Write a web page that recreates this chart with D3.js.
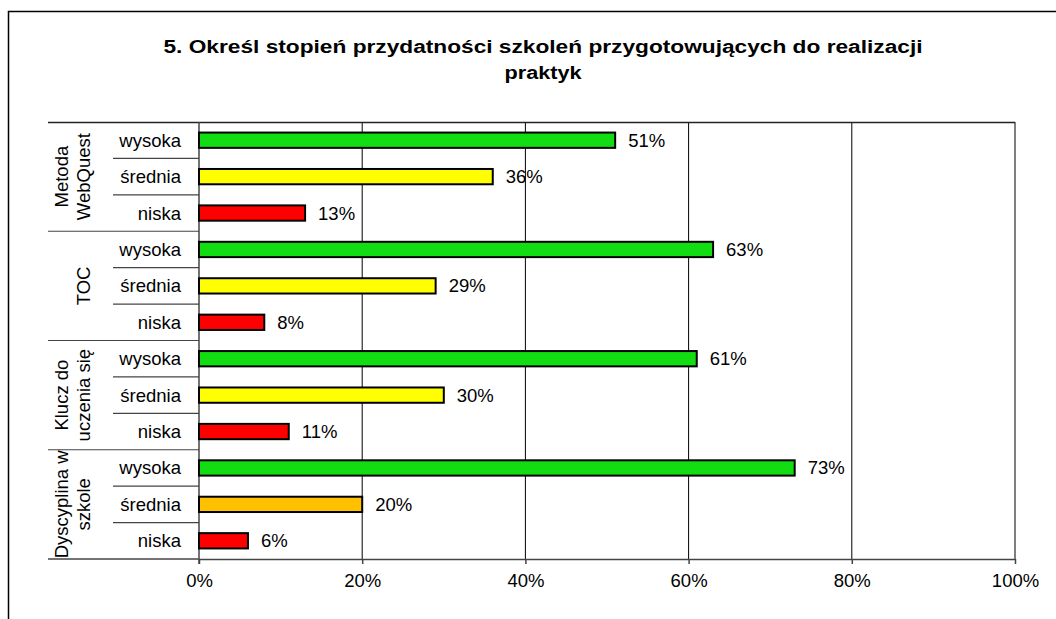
<!DOCTYPE html>
<html>
<head>
<meta charset="utf-8">
<script src="https://cdn.jsdelivr.net/npm/d3@7"></script>
<style>
  html, body { margin: 0; padding: 0; background: #fff; }
  svg { display: block; font-family: "Liberation Sans", Arial, sans-serif; }
</style>
</head>
<body>
<svg id="chart" width="1056" height="619"></svg>
<script>
// Survey groups (top to bottom) and the three rating levels in each
const groups = ["Metoda WebQuest", "TOC", "Klucz do uczenia się", "Dyscyplina w szkole"];
const groupLines = [["Metoda", "WebQuest"], ["TOC"], ["Klucz do", "uczenia się"], ["Dyscyplina w", "szkole"]];
const levels = ["wysoka", "średnia", "niska"];

// Share of answers (%) per group, in the order of `levels`
const wysoka = [51, 63, 61, 73];
const srednia = [36, 29, 30, 20];
const niska = [13, 8, 11, 6];

const xTicks = [0, 20, 40, 60, 80, 100];
const titleLines = ["5. Określ stopień przydatności szkoleń przygotowujących do realizacji", "praktyk"];

// Bar fill per level; the last group's middle bar is orange
const levelColors = ["#12dc12", "#ffff00", "#ff0000"];
const orangeFill = "#ffc000";

const rows = [];
groups.forEach((g, gi) => {
  const vals = [wysoka[gi], srednia[gi], niska[gi]];
  levels.forEach((lv, li) => {
    let fill = levelColors[li];
    if (gi === 3 && li === 1) fill = orangeFill;
    rows.push({ key: g + "|" + lv, group: g, gi, level: lv, li, value: vals[li], fill });
  });
});

const svg = d3.select("#chart");
const labelSize = 18.5;

// Outer chart frame (open on the right)
svg.append("path")
  .attr("d", "M8.5,619 L8.5,11.5 L1056,11.5")
  .attr("fill", "none").attr("stroke", "#000").attr("stroke-width", 1.5);

// Title: wide letterforms, stretched to the line widths
const titleWidths = [759, 77];
const title = svg.append("text")
  .attr("text-anchor", "middle")
  .attr("font-weight", "bold")
  .attr("font-size", 18)
  .attr("fill", "#000");
titleLines.forEach((t, i) => {
  title.append("tspan")
    .attr("x", 543).attr("y", 53 + i * 26)
    .attr("textLength", titleWidths[i])
    .attr("lengthAdjust", "spacingAndGlyphs")
    .text(t);
});

// Plot geometry
const plotL = 199, plotR = 1015, plotT = 122, plotB = 559;
const x = d3.scaleLinear().domain([0, 100]).range([plotL, plotR]);
const y = d3.scaleBand().domain(rows.map(r => r.key)).range([plotT, plotB]).paddingInner(0.58).paddingOuter(0.29);
const gap = (y.step() - y.bandwidth()) / 2;

// Vertical gridlines
svg.append("g").selectAll("line")
  .data(xTicks.filter(t => t > 0))
  .join("line")
  .attr("x1", d => x(d)).attr("x2", d => x(d))
  .attr("y1", plotT).attr("y2", plotB)
  .attr("stroke", "#000").attr("stroke-width", 1);

// Top border line of the plot, extending over the category labels
svg.append("line")
  .attr("x1", 48).attr("x2", plotR).attr("y1", plotT + 0.5).attr("y2", plotT + 0.5)
  .attr("stroke", "#222").attr("stroke-width", 1.5);

// Bottom axis
const xAxis = svg.append("g")
  .attr("transform", `translate(0,${plotB})`)
  .call(d3.axisBottom(x).tickValues(xTicks).tickFormat(d => d + "%").tickSize(5).tickSizeOuter(0).tickPadding(10));
xAxis.select(".domain").attr("stroke", "#444").attr("stroke-width", 1.5);
xAxis.selectAll(".tick line").attr("stroke", "#444").attr("stroke-width", 1.5);
xAxis.selectAll(".tick text")
  .attr("font-size", labelSize).attr("fill", "#000")
  .attr("font-family", "'Liberation Sans', Arial, sans-serif");

// Extend bottom line to the left under the labels
svg.append("line")
  .attr("x1", 48).attr("x2", plotL).attr("y1", plotB).attr("y2", plotB)
  .attr("stroke", "#444").attr("stroke-width", 1.5);

// Vertical category axis
svg.append("line")
  .attr("x1", plotL).attr("x2", plotL).attr("y1", plotT).attr("y2", plotB + 5)
  .attr("stroke", "#444").attr("stroke-width", 1.5);

// Separators between levels (short) and groups (long)
svg.append("g").selectAll("line")
  .data(rows.slice(1).map(r => ({ yv: y(r.key) - gap, groupStart: r.li === 0 })))
  .join("line")
  .attr("x1", d => d.groupStart ? 48 : 113).attr("x2", plotL)
  .attr("y1", d => d.yv).attr("y2", d => d.yv)
  .attr("stroke", "#444").attr("stroke-width", 1.2);

// Level labels
svg.append("g").selectAll("text")
  .data(rows)
  .join("text")
  .attr("x", 181)
  .attr("y", d => y(d.key) + y.bandwidth() / 2)
  .attr("dy", "0.35em")
  .attr("text-anchor", "end")
  .attr("font-size", labelSize)
  .attr("fill", "#000")
  .text(d => d.level);

// Group labels, rotated; the last line sits nearest the level labels
groups.forEach((g, gi) => {
  const first = y(rows[gi * 3].key), last = y(rows[gi * 3 + 2].key) + y.bandwidth();
  const cy = (first + last) / 2;
  const lines = groupLines[gi];
  const lastX = 84;
  const lh = 22;
  lines.forEach((ln, i) => {
    const cx = lastX - (lines.length - 1 - i) * lh;
    svg.append("text")
      .attr("transform", `translate(${cx},${cy}) rotate(-90)`)
      .attr("text-anchor", "middle")
      .attr("dy", "0.35em")
      .attr("font-size", labelSize)
      .attr("fill", "#000")
      .text(ln);
  });
});

// Bars
svg.append("g").selectAll("rect")
  .data(rows)
  .join("rect")
  .attr("x", x(0))
  .attr("y", d => y(d.key))
  .attr("width", d => x(d.value) - x(0))
  .attr("height", y.bandwidth())
  .attr("fill", d => d.fill)
  .attr("stroke", "#000")
  .attr("stroke-width", 2);

// Value labels
svg.append("g").selectAll("text")
  .data(rows)
  .join("text")
  .attr("x", d => x(d.value) + 13)
  .attr("y", d => y(d.key) + y.bandwidth() / 2)
  .attr("dy", "0.35em")
  .attr("font-size", labelSize)
  .attr("fill", "#000")
  .text(d => d.value + "%");
</script>
</body>
</html>
